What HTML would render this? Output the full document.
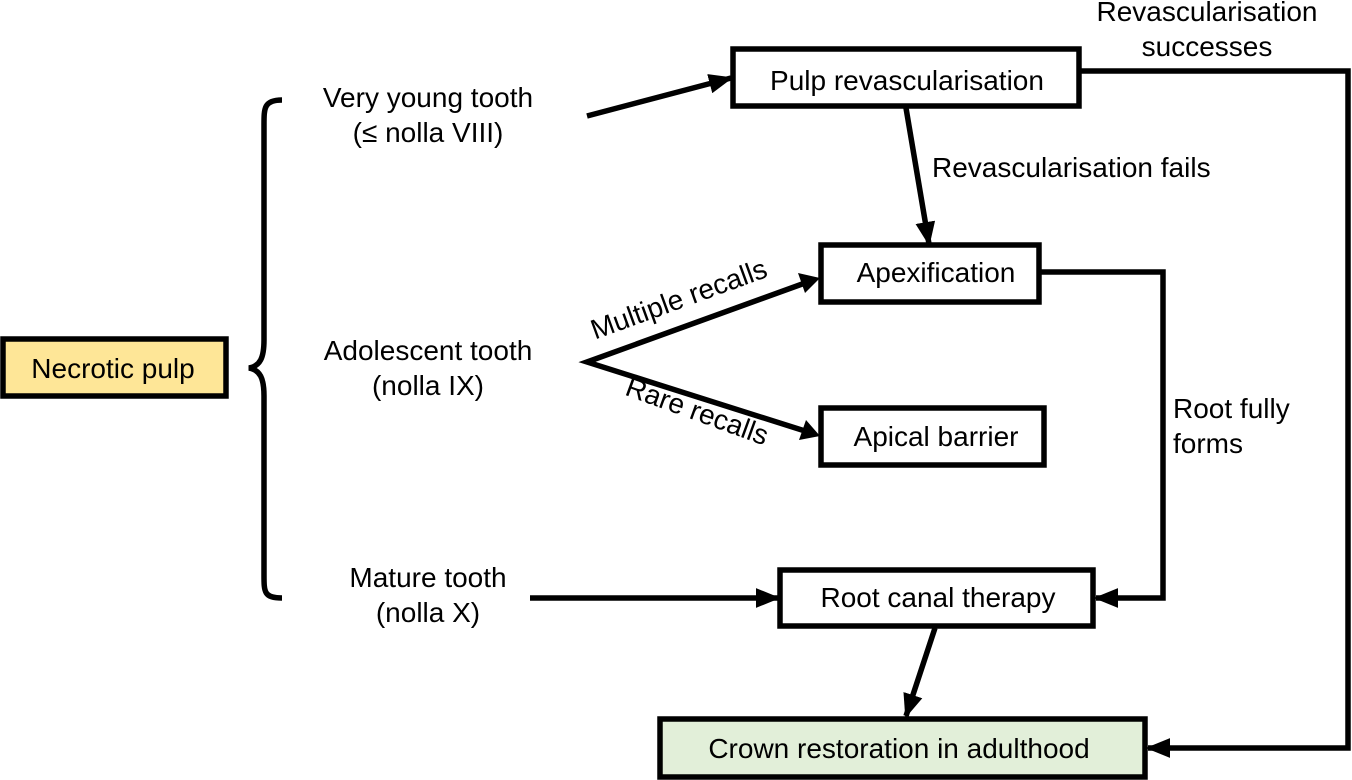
<!DOCTYPE html>
<html><head><meta charset="utf-8"><style>
html,body{margin:0;padding:0;background:#fff;}
svg{display:block;}
text{font-family:"Liberation Sans",Arial,sans-serif;font-size:28px;fill:#000;}
</style></head><body>
<svg width="1352" height="780" viewBox="0 0 1352 780" xmlns="http://www.w3.org/2000/svg">
<defs>
<marker id="a" markerWidth="4.4" markerHeight="3.6" refX="4" refY="1.8" orient="auto" markerUnits="strokeWidth">
<path d="M0,0 L4.4,1.8 L0,3.6 Z" fill="#000"/>
</marker>
</defs>
<g stroke="#000" stroke-width="5.5" fill="none">
<rect x="3" y="339" width="223" height="57" fill="#fee697"/>
<path d="M282,100 C264,100 264,108 264,125 L264,340 C264,358 260,366 249,368 C260,370 264,378 264,396 L264,575 C264,592 264,598 282,598"/>
<rect x="733" y="49" width="346" height="57" fill="#fff"/>
<rect x="821" y="245" width="218" height="57" fill="#fff"/>
<rect x="821" y="408" width="223" height="57" fill="#fff"/>
<rect x="780" y="570" width="313" height="56" fill="#fff"/>
<rect x="660" y="719" width="485" height="58" fill="#e2efd9"/>
<line x1="587" y1="116" x2="731" y2="78" marker-end="url(#a)"/>
<line x1="906" y1="108" x2="929" y2="244" marker-end="url(#a)"/>
<polyline points="1040,272 1163,272 1163,598 1096,598" marker-end="url(#a)"/>
<polyline points="1080,71 1348,71 1348,748 1148,748" marker-end="url(#a)"/>
<line x1="530" y1="598" x2="778" y2="598" marker-end="url(#a)"/>
<line x1="935" y1="628" x2="906" y2="716" marker-end="url(#a)"/>
<polyline points="805,283 587,362 805,431" stroke-linejoin="miter"/>
</g>
<g fill="#000">
<path d="M820,278 L798,273 L805,293 Z"/>
<path d="M820,436 L806,420 L799,440 Z"/>
</g>
<text x="113" y="378" text-anchor="middle">Necrotic pulp</text>
<text x="428" y="107" text-anchor="middle">Very young tooth</text>
<text x="428" y="142" text-anchor="middle">(≤ nolla VIII)</text>
<text x="428" y="360" text-anchor="middle">Adolescent tooth</text>
<text x="428" y="395" text-anchor="middle">(nolla IX)</text>
<text x="428" y="587" text-anchor="middle">Mature tooth</text>
<text x="428" y="622" text-anchor="middle">(nolla X)</text>
<text x="907" y="90" text-anchor="middle">Pulp revascularisation</text>
<text x="936" y="282" text-anchor="middle">Apexification</text>
<text x="936" y="446" text-anchor="middle">Apical barrier</text>
<text x="938" y="607" text-anchor="middle">Root canal therapy</text>
<text x="899" y="758" text-anchor="middle">Crown restoration in adulthood</text>
<text x="1207" y="21" text-anchor="middle">Revascularisation</text>
<text x="1207" y="56" text-anchor="middle">successes</text>
<text x="932" y="177">Revascularisation fails</text>
<text x="1173" y="418">Root fully</text>
<text x="1173" y="453">forms</text>
<text x="682" y="308" text-anchor="middle" transform="rotate(-20 682 308)">Multiple recalls</text>
<text x="694" y="420" text-anchor="middle" transform="rotate(20 694 420)">Rare recalls</text>
</svg>
</body></html>
